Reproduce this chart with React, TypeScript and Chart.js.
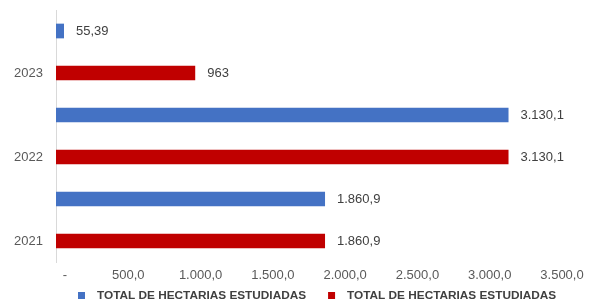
import React, { useEffect, useRef } from "react";
import { Chart, registerables } from "chart.js";

Chart.register(...registerables);

const years = ["2023", "2022", "2021"];
const seriesName = "TOTAL DE HECTARIAS ESTUDIADAS";
const blueValues = [55.39, 3130.1, 1860.9];
const redValues = [963, 3130.1, 1860.9];
const xMax = 3500;
const xStep = 500;

const BLUE = "#4472C4";
const RED = "#C00000";
const FONT = "'Liberation Sans', Arial, sans-serif";

const fmtValue = (v: number) =>
  new Intl.NumberFormat("de-DE", { maximumFractionDigits: 2 }).format(v);
const fmtTick = (v: number) =>
  v === 0
    ? "     -"
    : new Intl.NumberFormat("de-DE", { minimumFractionDigits: 1, maximumFractionDigits: 1 }).format(v);

const valueLabels = {
  id: "valueLabels",
  afterDatasetsDraw(chart: any) {
    const ctx = chart.ctx;
    ctx.save();
    ctx.font = `13px ${FONT}`;
    ctx.fillStyle = "#404040";
    ctx.textAlign = "left";
    ctx.textBaseline = "middle";
    chart.data.datasets.forEach((ds: any, di: number) => {
      const meta = chart.getDatasetMeta(di);
      meta.data.forEach((el: any, i: number) => {
        const v = ds.data[i];
        if (v == null) return;
        ctx.fillText(fmtValue(v), el.x + 12, el.y + 0.5);
      });
    });
    ctx.restore();
  },
};

const bottomLegend = {
  id: "bottomLegend",
  afterDraw(chart: any) {
    const ctx = chart.ctx;
    ctx.save();
    ctx.font = `bold 11.8px ${FONT}`;
    ctx.textBaseline = "middle";
    ctx.textAlign = "left";
    const y = 295.5;
    let x = 78;
    chart.data.datasets.forEach((ds: any) => {
      ctx.fillStyle = ds.backgroundColor;
      ctx.fillRect(x, y - 3.5, 7, 7);
      ctx.fillStyle = "#404040";
      ctx.fillText(ds.label, x + 19, y);
      x += 19 + ctx.measureText(ds.label).width + 22;
    });
    ctx.restore();
  },
};

export default function App() {
  const ref = useRef<HTMLCanvasElement>(null);
  useEffect(() => {
    if (!ref.current) return;
    const chart = new Chart(ref.current, {
      type: "bar",
      data: {
        labels: years,
        datasets: [
          { label: seriesName, data: blueValues, backgroundColor: BLUE, borderWidth: 0 },
          { label: seriesName, data: redValues, backgroundColor: RED, borderWidth: 0 },
        ],
      },
      options: {
        indexAxis: "y",
        animation: false,
        responsive: false,
        maintainAspectRatio: false,
        layout: { padding: { top: 10, right: 28, left: 0, bottom: 16 } },
        datasets: { bar: { categoryPercentage: 1, barPercentage: 0.35 } },
        scales: {
          x: {
            min: 0,
            max: xMax,
            grid: { display: false, drawTicks: false },
            border: { display: false },
            ticks: {
              stepSize: xStep,
              padding: 6,
              color: "#595959",
              font: { family: FONT, size: 13 },
              maxRotation: 0,
              callback: (v: any) => fmtTick(Number(v)),
            },
            afterFit: (s: any) => {
              s.height = 22;
              s.paddingLeft = 0;
              s.paddingRight = 0;
            },
          },
          y: {
            grid: { display: false, drawTicks: false },
            border: { display: true, color: "#d9d9d9", width: 1 },
            ticks: {
              padding: 13,
              labelOffset: 21,
              color: "#595959",
              font: { family: FONT, size: 13 },
            },
            afterFit: (s: any) => {
              s.width = 56;
              s.paddingTop = 0;
              s.paddingBottom = 0;
            },
          },
        },
        plugins: {
          legend: { display: false },
          tooltip: { enabled: false },
        },
      },
      plugins: [valueLabels, bottomLegend],
    });
    return () => chart.destroy();
  }, []);
  return (
    <div style={{ position: "fixed", left: 0, top: 0, width: 590, height: 300, background: "#fff" }}>
      <canvas ref={ref} width={590} height={300} />
    </div>
  );
}
